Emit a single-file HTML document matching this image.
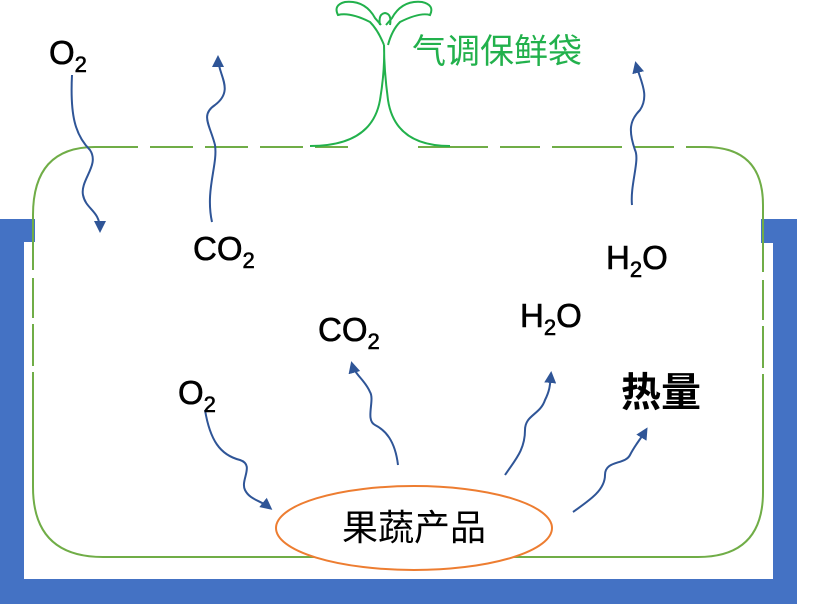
<!DOCTYPE html>
<html><head><meta charset="utf-8"><style>
html,body{margin:0;padding:0;background:#fff;}
svg{display:block;}
text{font-family:"Liberation Sans","Noto Sans CJK SC",sans-serif;}
</style></head><body>
<svg width="814" height="604" viewBox="0 0 814 604" xmlns="http://www.w3.org/2000/svg">
<defs>
<marker id="a" markerWidth="12" markerHeight="12" refX="9" refY="6" orient="auto" markerUnits="userSpaceOnUse">
<path d="M0,0 L12,6 L0,12 Z" fill="#2F5597"/></marker>
</defs>
<rect x="0" y="219" width="35" height="23" fill="#4472C4"/>
<rect x="0" y="219" width="24" height="385" fill="#4472C4"/>
<rect x="0" y="579" width="797" height="25" fill="#4472C4"/>
<rect x="773" y="219" width="24" height="385" fill="#4472C4"/>
<rect x="761" y="219" width="36" height="24" fill="#4472C4"/>
<g fill="none" stroke="#70AD47" stroke-width="2">
<path d="M33,380 L33,487 Q33,557 103,557 L698,557 Q763,557 763,492 L763,380"/>
<path d="M33,380 L33,215 Q33,147 95,147" />
<path d="M763,380 L763,205 Q763,147 705,147"/>
<path d="M95,147 L348,147" stroke-dasharray="43,12"/>
<path d="M418,147 L705,147" stroke-dasharray="70,12,40,12"/>
</g>
<g stroke="#fff" stroke-width="4">
<line x1="33" y1="270" x2="33" y2="278"/><line x1="33" y1="318" x2="33" y2="324"/><line x1="33" y1="366" x2="33" y2="372"/>
<line x1="763" y1="272" x2="763" y2="280"/><line x1="763" y1="320" x2="763" y2="326"/><line x1="763" y1="368" x2="763" y2="374"/>
</g>
<g fill="none" stroke="#22B14C" stroke-width="2">
<path d="M310,146 Q372,146 380,100 Q385,70 384,45 Q384,70 388,100 Q395,146 450,146"/>
<path d="M384,45 Q378,30 370,22 Q350,12 338,15 Q333,5 345,2 Q365,0 375,18 L381,25"/>
<path d="M388,45 Q392,30 400,22 Q420,12 430,15 Q435,5 422,2 Q402,0 392,18 L386,25"/>
<path d="M380,25 Q378,14 385,13 Q392,14 390,25"/>
</g>
<text x="412" y="63" font-size="34" fill="#22B14C">气调保鲜袋</text>
<ellipse cx="414" cy="528" rx="138" ry="42" fill="#fff" stroke="#ED7D31" stroke-width="2"/>
<text x="414" y="540" font-size="36" text-anchor="middle" fill="#000">果蔬产品</text>
<g fill="none" stroke="#2F5597" stroke-width="2" marker-end="url(#a)">
<path d="M72,75 C70,115 75,135 90,150 C100,165 80,180 83,195 C86,210 100,210 100,230"/>
<path d="M212,222 C205,190 218,165 215,145 C210,125 200,115 215,105 C235,90 218,75 218,58"/>
<path d="M632,205 C630,185 640,160 635,150 C628,130 630,120 640,110 C650,95 640,80 636,64"/>
<path d="M205,410 C210,440 220,455 240,460 C255,465 240,480 245,490 C250,500 260,500 270,508"/>
<path d="M398,465 C395,440 385,430 375,425 C365,420 375,400 370,392 C365,380 355,375 352,364"/>
<path d="M505,475 C515,460 525,450 525,430 C525,415 540,415 545,400 C550,390 550,385 551,374"/>
<path d="M573,512 C590,500 605,490 605,475 C605,460 625,465 630,455 C635,445 640,440 646,430"/>
</g>
<g font-size="33" fill="#000" stroke="#000" stroke-width="0.6">
<text x="49" y="64">O<tspan font-size="22" dy="8">2</tspan></text>
<text x="193" y="260">CO<tspan font-size="22" dy="8">2</tspan></text>
<text x="606" y="269">H<tspan font-size="22" dy="8">2</tspan><tspan dy="-8">O</tspan></text>
<text x="520" y="327">H<tspan font-size="22" dy="8">2</tspan><tspan dy="-8">O</tspan></text>
<text x="318" y="341">CO<tspan font-size="22" dy="8">2</tspan></text>
<text x="178" y="404">O<tspan font-size="22" dy="8">2</tspan></text>
<text x="621" y="406" font-size="40" font-weight="bold" stroke="none">热量</text>
</g>
</svg>
</body></html>
